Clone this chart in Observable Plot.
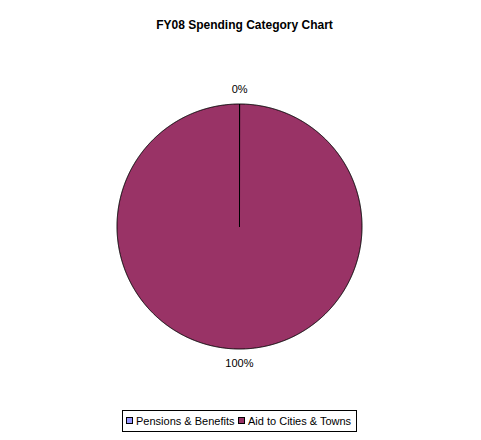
<!DOCTYPE html>
<html>
<head>
<meta charset="utf-8">
<script src="https://cdn.jsdelivr.net/npm/d3@7"></script>
<script src="https://cdn.jsdelivr.net/npm/@observablehq/plot@0.6"></script>
<style>
  html, body { margin: 0; padding: 0; background: #fff; }
  #wrap { position: relative; width: 481px; height: 440px; overflow: hidden; font-family: "Liberation Sans", Arial, sans-serif; }
  #title { position: absolute; left: 4px; width: 481px; top: 18px; text-align: center; font-weight: bold; font-size: 12px; color: #000; }
  #legend { position: absolute; left: 122px; top: 410px; width: 233px; height: 20px; border: 1px solid #000; box-sizing: content-box; font-size: 11px; color: #000; white-space: nowrap; }
  .item { position: absolute; top: 4px; }
  .sw { position: absolute; top: 2px; width: 5px; height: 5px; border: 1px solid #000; }
  .lab { position: absolute; top: 0px; left: 10px; line-height: 13px; }
  #chart svg { display: block; }
</style>
</head>
<body>
<div id="wrap">
  <div id="chart"></div>
  <div id="title"></div>
  <div id="legend"></div>
</div>
<script>
const titleText = "FY08 Spending Category Chart";
const categories = ["Pensions & Benefits", "Aid to Cities & Towns"];
const values = [0.02, 99.98];
const pctLabels = ["0%", "100%"];
const colors = ["#9999FF", "#993366"];

const data = categories.map((c, i) => ({cat: c, value: values[i], label: pctLabels[i], color: colors[i]}));
const arcs = d3.pie().sort(null).value(d => d.value)(data);

// polygon points for each slice, in unit-radius coordinates
const pts = [];
for (const a of arcs) {
  const cat = a.data.cat;
  pts.push({cat, x: 0, y: 0});
  const n = Math.max(2, Math.ceil((a.endAngle - a.startAngle) / 0.005));
  for (let k = 0; k <= n; k++) {
    const t = a.startAngle + (a.endAngle - a.startAngle) * k / n;
    pts.push({cat, x: Math.sin(t), y: Math.cos(t)});
  }
  pts.push({cat, x: 0, y: 0});
}
const labelPts = arcs.map(a => {
  const m = (a.startAngle + a.endAngle) / 2;
  return {label: a.data.label, x: 1.12 * Math.sin(m), y: 1.12 * Math.cos(m)};
});

const W = 481, H = 440, cx = 239, cy = 226, R = 122.5;
const chart = Plot.plot({
  width: W, height: H,
  marginTop: 0, marginRight: 0, marginBottom: 0, marginLeft: 0,
  style: {fontFamily: "Liberation Sans, Arial, sans-serif", background: "#fff"},
  x: {domain: [-cx / R, (W - cx) / R], range: [0, W], axis: null},
  y: {domain: [-(H - cy) / R, cy / R], range: [H, 0], axis: null},
  color: {domain: categories, range: colors},
  marks: [
    Plot.line(pts, {x: "x", y: "y", z: "cat", fill: d => d.cat, stroke: "#000", strokeWidth: 1, curve: "linear"}),
    Plot.text(labelPts, {x: "x", y: "y", text: "label", fontSize: 11, fill: "#000"})
  ]
});
document.getElementById("chart").appendChild(chart);

document.getElementById("title").textContent = titleText;
const leg = document.getElementById("legend");
const offsets = [3, 115];
categories.forEach((c, i) => {
  const it = document.createElement("div");
  it.className = "item";
  it.style.left = offsets[i] + "px";
  const sw = document.createElement("div");
  sw.className = "sw";
  sw.style.background = colors[i];
  const lab = document.createElement("div");
  lab.className = "lab";
  lab.textContent = c;
  it.appendChild(sw); it.appendChild(lab);
  leg.appendChild(it);
});
</script>
</body>
</html>
